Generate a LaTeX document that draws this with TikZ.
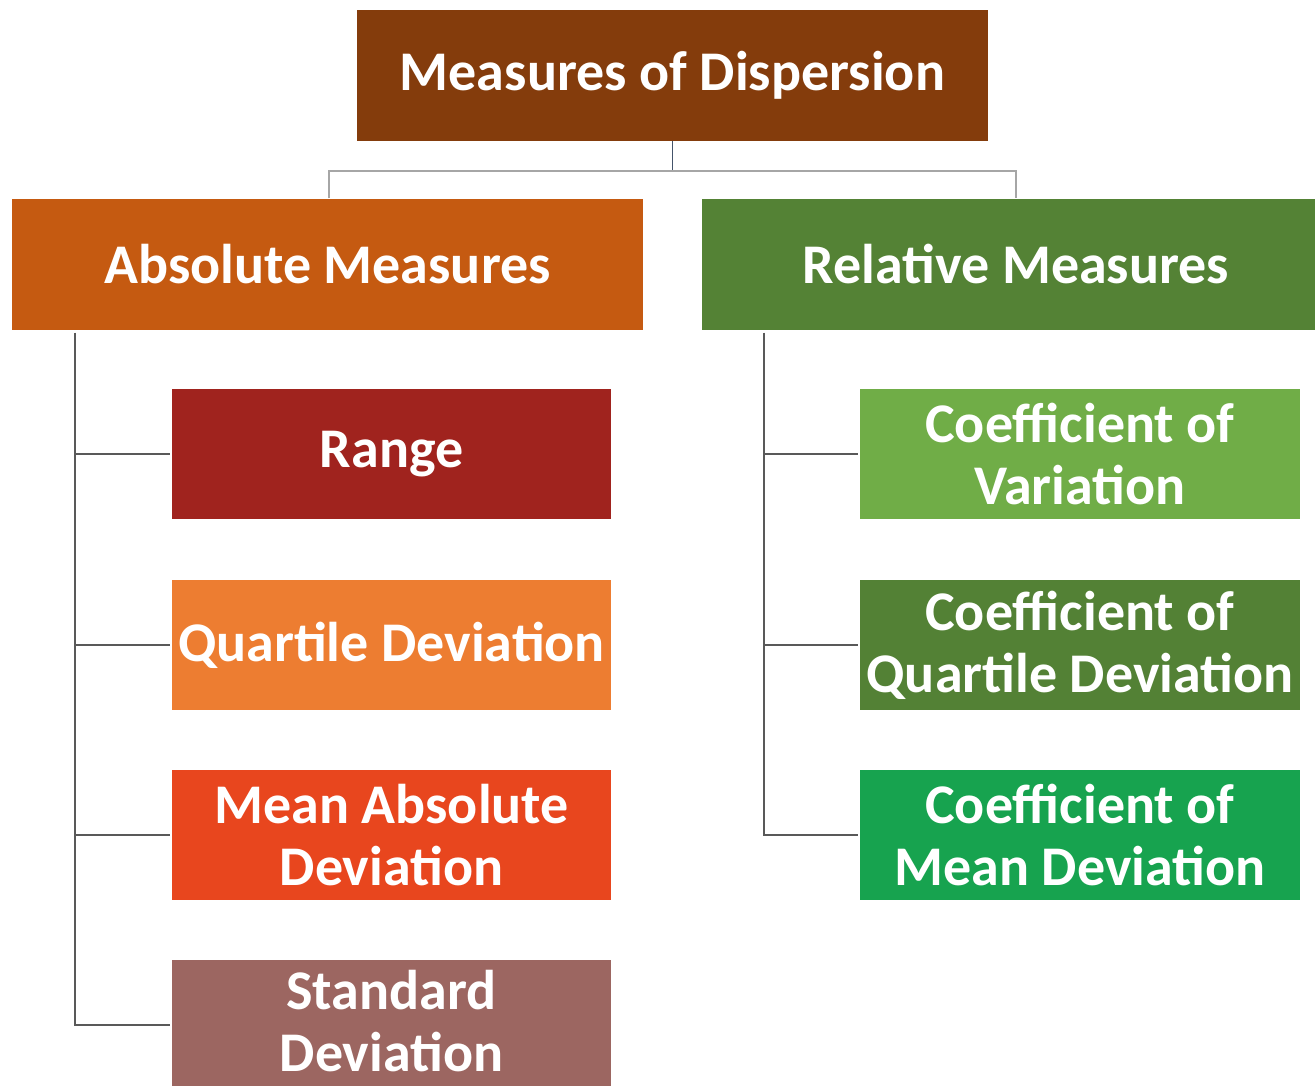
\documentclass[tikz,border=0pt]{standalone}
\usepackage{fontspec}
\setmainfont{Carlito}
\begin{document}
\definecolor{cTop}{HTML}{843C0C}
\definecolor{cAbs}{HTML}{C55A11}
\definecolor{cRel}{HTML}{548235}
\definecolor{cRange}{HTML}{A0231E}
\definecolor{cQD}{HTML}{ED7D31}
\definecolor{cMAD}{HTML}{E8461E}
\definecolor{cSD}{HTML}{9C6661}
\definecolor{cCV}{HTML}{70AD47}
\definecolor{cCQD}{HTML}{538135}
\definecolor{cCMD}{HTML}{17A34F}
\definecolor{cLine}{HTML}{595959}
\definecolor{cStem}{HTML}{44546A}
\begin{tikzpicture}[x=1pt,y=-1pt,
  box/.style={rectangle, inner sep=0pt, text=white, align=center,
    font=\fontsize{56}{62}\selectfont\bfseries},
  head/.style={box, minimum height=131pt},
  leaf/.style={box, minimum width=439pt, minimum height=130pt},
  link/.style={draw=cLine, line width=1.8pt}]
\useasboundingbox (0,0) rectangle (1315,1085);

% title and the two groups
\node[head, fill=cTop, minimum width=631pt] (top) at (672.5,75) {Measures of Dispersion};
\node[head, fill=cAbs, minimum width=631pt] (abs) at (327.5,264) {Absolute Measures};
\node[head, fill=cRel, minimum width=628pt] (rel) at (1016,264) {Relative Measures};

% absolute measures
\node[leaf, fill=cRange] (range) at (391.5,454) {Range};
\node[leaf, fill=cQD] (qd) at (391.5,645) {Quartile Deviation};
\node[leaf, fill=cMAD] (mad) at (391.5,835) {Mean Absolute\\Deviation};
\node[leaf, fill=cSD, text depth=8pt] (sd) at (391.5,1025) {Standard\\Deviation};

% relative measures
\node[leaf, fill=cCV, minimum width=440pt] (cv) at (1080,454) {Coefficient of\\Variation};
\node[leaf, fill=cCQD, minimum width=440pt] (cqd) at (1080,645) {Coefficient of\\Quartile Deviation};
\node[leaf, fill=cCMD, minimum width=440pt] (cmd) at (1080,835) {Coefficient of\\Mean Deviation};

% split under the title
\draw[draw=cStem, line width=1.8pt] (top.south) -- ++(0,30) coordinate (split);
\draw[draw=gray!70, line width=1.8pt] ([xshift=1.5pt]abs.north) |- (split) -| (rel.north);

% left bracket
\coordinate (lt) at ([xshift=63pt,yshift=-3pt]abs.south west);
\draw[link] (lt) |- ([xshift=-2pt]sd.west);
\foreach \n in {range,qd,mad}
  \draw[link] ([xshift=-2pt]\n.west) -- (\n.west -| lt);

% right bracket
\coordinate (rt) at ([xshift=62pt,yshift=-3pt]rel.south west);
\draw[link] (rt) |- ([xshift=-2pt]cmd.west);
\foreach \n in {cv,cqd}
  \draw[link] ([xshift=-2pt]\n.west) -- (\n.west -| rt);
\end{tikzpicture}
\end{document}
